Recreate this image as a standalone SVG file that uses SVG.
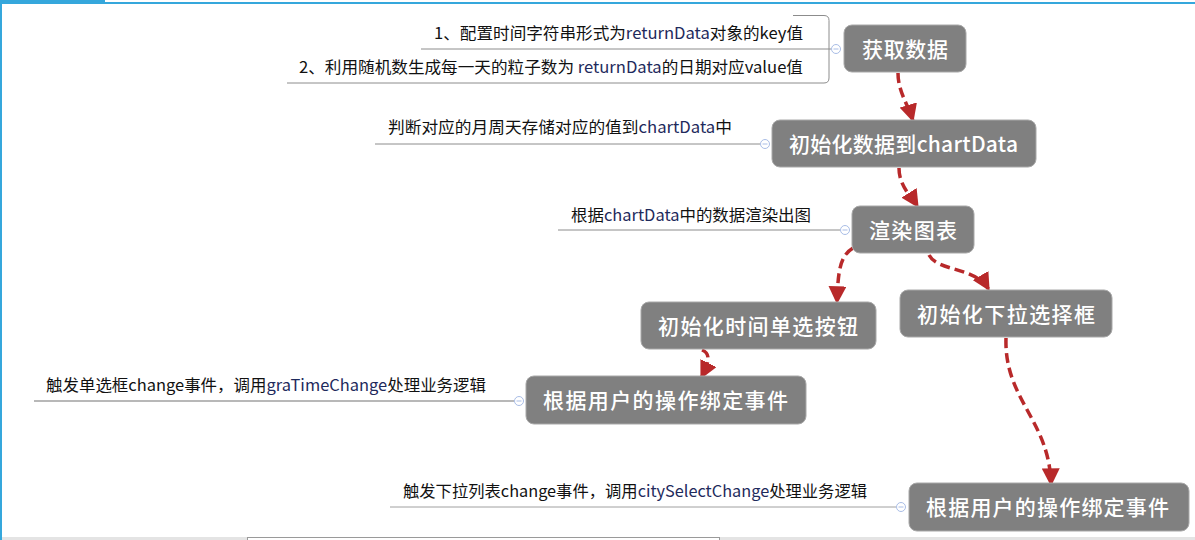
<svg xmlns="http://www.w3.org/2000/svg" width="1195" height="540" viewBox="0 0 1195 540">
<style>
.node rect{fill:#808080;stroke:#a8a8a8;stroke-width:1}
.node text{fill:#ffffff;font-family:"Noto Sans CJK SC","Liberation Sans",sans-serif;font-size:21px;font-weight:500}
.lbl{fill:#111111;font-family:"Noto Sans CJK SC","Liberation Sans",sans-serif;font-size:16px}
.code{fill:#1e2a5c}
.ln{stroke:#8c8c8c;stroke-width:1;fill:none}
.knob circle{fill:#ffffff;stroke:#a9bde6;stroke-width:1}
.knob path{stroke:#a9bde6;stroke-width:1}
.flow{fill:none;stroke:#b8292a;stroke-width:3.5;stroke-dasharray:10 5;marker-end:url(#arr)}
</style>
<defs>
<marker id="arr" markerUnits="userSpaceOnUse" markerWidth="18" markerHeight="18" viewBox="0 0 14 14" refX="13" refY="7" orient="auto">
<path d="M0,0 L14,7 L0,14 z" fill="#b8292a"/>
</marker>
</defs>
<rect x="0" y="0" width="1195" height="540" fill="#ffffff"/>
<g id="frame">
<rect x="0" y="0" width="105" height="4" fill="#35a7dc"/>
<rect x="105" y="2" width="1090" height="2" fill="#35a7dc"/>
<rect x="0" y="0" width="2" height="540" fill="#35a7dc"/>
<rect x="2" y="537" width="1193" height="3" fill="#e4e4e4"/>
<rect x="247.5" y="537.5" width="472" height="4" fill="#ffffff" stroke="#9a9a9a" stroke-width="1"/>
</g>
<g id="labels">
<path class="ln" d="M793 15.5 H824 Q829 15.5 829 20.5 V78 Q829 83 824 83 H287"/>
<path class="ln" d="M421 49 H831"/>
<text class="lbl" x="434" y="39" textLength="369" lengthAdjust="spacingAndGlyphs">1、配置时间字符串形式为<tspan class="code">returnData</tspan>对象的key值</text>
<text class="lbl" x="299" y="73" textLength="504" lengthAdjust="spacingAndGlyphs">2、利用随机数生成每一天的粒子数为 <tspan class="code">returnData</tspan>的日期对应value值</text>
<path class="ln" d="M375 144 H760"/>
<text class="lbl" x="388" y="133" textLength="344" lengthAdjust="spacingAndGlyphs">判断对应的月周天存储对应的值到<tspan class="code">chartData</tspan>中</text>
<path class="ln" d="M558 230 H840"/>
<text class="lbl" x="571" y="221" textLength="240" lengthAdjust="spacingAndGlyphs">根据<tspan class="code">chartData</tspan>中的数据渲染出图</text>
<path class="ln" d="M34 401 H514" style="stroke:#b8b8b8;stroke-width:2"/>
<text class="lbl" x="46" y="391" textLength="440" lengthAdjust="spacingAndGlyphs">触发单选框change事件，调用<tspan class="code">graTimeChange</tspan>处理业务逻辑</text>
<path class="ln" d="M390 507 H896" style="stroke:#a0a0a0"/>
<text class="lbl" x="403" y="497" textLength="464" lengthAdjust="spacingAndGlyphs">触发下拉列表change事件，调用<tspan class="code">citySelectChange</tspan>处理业务逻辑</text>
</g>
<g id="knobs" class="knob">
<circle cx="836" cy="49" r="4.5"/><path d="M833.5 49 H838.5"/>
<circle cx="765" cy="144" r="4.5"/><path d="M762.5 144 H767.5"/>
<circle cx="845" cy="230" r="4.5"/><path d="M842.5 230 H847.5"/>
<circle cx="519" cy="401" r="4.5"/><path d="M516.5 401 H521.5"/>
<circle cx="901" cy="507" r="4.5"/><path d="M898.5 507 H903.5"/>
</g>
<g id="connectors">
<path class="flow" d="M898 73 C898 92 908 104 913 121"/>
<path class="flow" d="M899 168 C899 186 911 196 918 207"/>
<path class="flow" d="M853 248 C840 256 838 270 837 303"/>
<path class="flow" d="M929 255 C938 272 975 266 989 290"/>
<path class="flow" d="M702 350 C712 354 708 364 701 378"/>
<path class="flow" d="M1006 338 C1004 400 1050 420 1051 485"/>
</g>
<g id="n1" class="node"><rect x="844" y="25" width="122" height="47" rx="8"/><text x="862" y="57" textLength="86">获取数据</text></g>
<g id="n2" class="node"><rect x="772" y="120" width="264" height="47" rx="8"/><text x="789" y="152" textLength="229">初始化数据到chartData</text></g>
<g id="n3" class="node"><rect x="852" y="206" width="122" height="47" rx="8"/><text x="869" y="238" textLength="88">渲染图表</text></g>
<g id="n4" class="node"><rect x="641" y="302" width="235" height="47" rx="8"/><text x="658" y="334" textLength="200">初始化时间单选按钮</text></g>
<g id="n5" class="node"><rect x="900" y="290" width="212" height="47" rx="8"/><text x="917" y="322" textLength="178">初始化下拉选择框</text></g>
<g id="n6" class="node"><rect x="526" y="376" width="280" height="48" rx="8"/><text x="543" y="408" textLength="245">根据用户的操作绑定事件</text></g>
<g id="n7" class="node"><rect x="909" y="483" width="280" height="48" rx="8"/><text x="926" y="515" textLength="243">根据用户的操作绑定事件</text></g>
</svg>
